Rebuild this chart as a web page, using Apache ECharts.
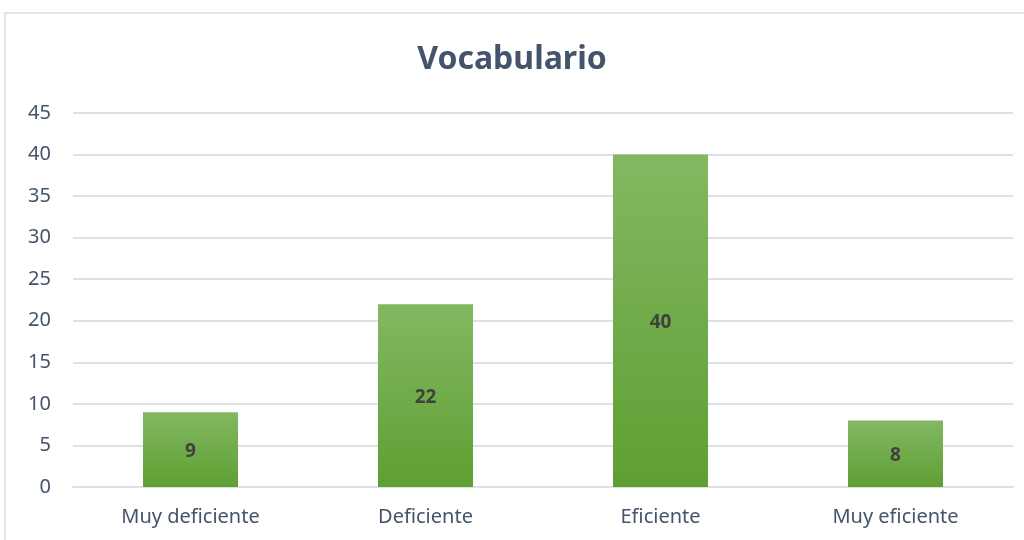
<!DOCTYPE html>
<html>
<head>
<meta charset="utf-8">
<script src="https://cdn.jsdelivr.net/npm/echarts@6/dist/echarts.min.js"></script>
<style>
  html, body { margin: 0; padding: 0; background: #fff; }
  #chart { width: 1024px; height: 540px; }
</style>
</head>
<body>
<div id="chart"></div>
<script>
var categories = ['Muy deficiente', 'Deficiente', 'Eficiente', 'Muy eficiente'];
var values = [9, 22, 40, 8];
var yMin = 0, yMax = 45, yStep = 5;

var chart = echarts.init(document.getElementById('chart'));
var option = {
    animation: false,
    textStyle: { fontFamily: 'Noto Sans' },
    graphic: [{
        type: 'rect',
        shape: { x: 5, y: 13, width: 1040, height: 560 },
        style: { fill: 'none', stroke: '#d9dde3', lineWidth: 1.5 },
        silent: true
    }],
    title: {
        text: 'Vocabulario',
        left: 'center',
        top: 39,
        textStyle: { color: '#44546a', fontSize: 32, fontWeight: 'bold', fontFamily: 'Noto Sans' }
    },
    grid: { left: 73, right: 11, top: 113, bottom: 53, containLabel: false },
    xAxis: {
        type: 'category',
        data: categories,
        axisTick: { show: false },
        axisLine: { lineStyle: { color: '#dde0e6', width: 2 } },
        axisLabel: { color: '#44546a', fontSize: 20, margin: 20 }
    },
    yAxis: {
        type: 'value',
        min: yMin,
        max: yMax,
        interval: yStep,
        axisLine: { show: false },
        axisTick: { show: false },
        splitLine: { lineStyle: { color: '#dde0e6', width: 2 } },
        axisLabel: { color: '#44546a', fontSize: 20, margin: 22 }
    },
    series: [{
        type: 'bar',
        data: values,
        barWidth: 95,
        itemStyle: {
            color: new echarts.graphic.LinearGradient(0, 0, 0, 1, [
                { offset: 0, color: '#83b862' },
                { offset: 1, color: '#5e9f32' }
            ])
        },
        label: {
            show: true,
            position: 'inside',
            offset: [0, 2],
            color: '#404040',
            fontSize: 19,
            fontWeight: 'bold'
        }
    }]
};
chart.setOption(option);
window.onresize = chart.resize;
</script>
</body>
</html>
